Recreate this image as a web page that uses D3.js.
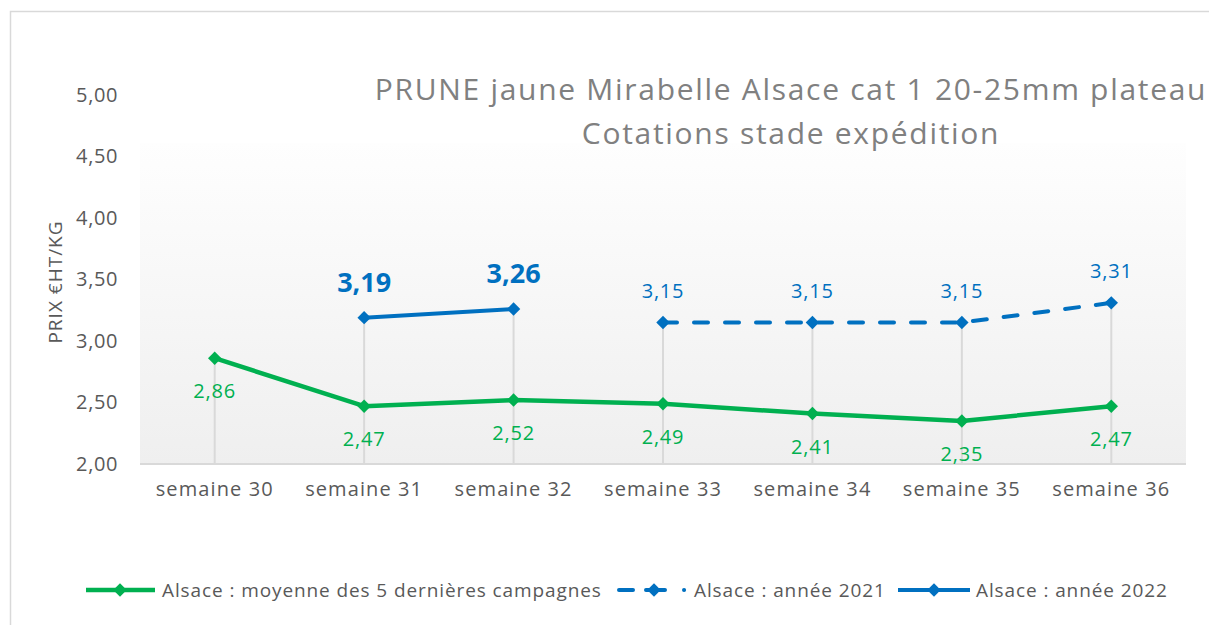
<!DOCTYPE html>
<html>
<head>
<meta charset="utf-8">
<script src="https://cdn.jsdelivr.net/npm/d3@7"></script>
<style>
  html, body { margin: 0; padding: 0; background: #fff; }
  svg { display: block; }
</style>
</head>
<body>
<script>
// --- data ---
const categories = ["semaine 30", "semaine 31", "semaine 32", "semaine 33", "semaine 34", "semaine 35", "semaine 36"];
const moyenne5 = [2.86, 2.47, 2.52, 2.49, 2.41, 2.35, 2.47];
const annee2021 = [null, null, null, 3.15, 3.15, 3.15, 3.31];
const annee2022 = [null, 3.19, 3.26, null, null, null, null];
const yTicks = [2.0, 2.5, 3.0, 3.5, 4.0, 4.5, 5.0];

const titleLines = ["PRUNE jaune Mirabelle Alsace cat 1 20-25mm plateau", "Cotations stade expédition"];
const yTitle = "PRIX €HT/KG";
const legendLabels = ["Alsace : moyenne des 5 dernières campagnes", "Alsace : année 2021", "Alsace : année 2022"];

const GREEN = "#00b050";
const BLUE = "#0070c0";
const FONT = "'Open Sans', 'DejaVu Sans', sans-serif";

const width = 1209;
const height = 625;
const plot = { left: 140, right: 1186, top: 95, bottom: 464 };

const fmt = (v) => v.toFixed(2).replace(".", ",");

const x = d3.scaleBand().domain(categories).range([plot.left, plot.right]);
const cx = (c) => x(c) + x.bandwidth() / 2;
const y = d3.scaleLinear().domain([2, 5]).range([plot.bottom, plot.top]);

const svg = d3.select("body").append("svg")
  .attr("width", width)
  .attr("height", height)
  .style("font-family", FONT);

const defs = svg.append("defs");
const grad = defs.append("linearGradient").attr("id", "plotbg").attr("x1", 0).attr("y1", 0).attr("x2", 0).attr("y2", 1);
grad.append("stop").attr("offset", "0%").attr("stop-color", "#fefefe");
grad.append("stop").attr("offset", "100%").attr("stop-color", "#efefef");
defs.append("clipPath").attr("id", "chartclip")
  .append("rect").attr("x", 0).attr("y", 0).attr("width", 1208).attr("height", height);

// chart border (runs off the right/bottom of the picture)
svg.append("rect")
  .attr("x", 10.5).attr("y", 11.5)
  .attr("width", 1400).attr("height", 800)
  .attr("fill", "#fff").attr("stroke", "#d9d9d9").attr("stroke-width", 1.5);

const g = svg.append("g").attr("clip-path", "url(#chartclip)");

// plot area background (title box covers its upper part)
g.append("rect")
  .attr("x", plot.left).attr("y", 143)
  .attr("width", plot.right - plot.left).attr("height", plot.bottom - 143)
  .attr("fill", "url(#plotbg)");

// drop lines from the highest point of each category to the axis
const dropTop = categories.map((c, i) => d3.max([moyenne5[i], annee2021[i], annee2022[i]].filter((v) => v != null)));
g.append("g").selectAll("line")
  .data(categories)
  .join("line")
  .attr("x1", (c) => cx(c)).attr("x2", (c) => cx(c))
  .attr("y1", (c, i) => y(dropTop[i])).attr("y2", plot.bottom)
  .attr("stroke", "#d9d9d9").attr("stroke-width", 2);

// x axis line
g.append("line")
  .attr("x1", plot.left).attr("x2", plot.right)
  .attr("y1", plot.bottom).attr("y2", plot.bottom)
  .attr("stroke", "#d9d9d9").attr("stroke-width", 2);

// y axis labels
const yAxis = g.append("g")
  .attr("transform", `translate(${plot.left},0)`)
  .call(d3.axisLeft(y).tickValues(yTicks).tickFormat(fmt).tickSize(0).tickPadding(22));
yAxis.select(".domain").remove();
yAxis.selectAll("text").attr("font-size", 20).attr("fill", "#595959").attr("font-family", FONT)
  .attr("letter-spacing", 0.6);

// x axis labels
const xAxis = g.append("g")
  .attr("transform", `translate(0,${plot.bottom})`)
  .call(d3.axisBottom(x).tickSize(0).tickPadding(18));
xAxis.select(".domain").remove();
xAxis.selectAll("text").attr("font-size", 20).attr("fill", "#595959").attr("font-family", FONT)
  .attr("letter-spacing", 1.1);

// y axis title
g.append("text")
  .attr("transform", `translate(62,${282}) rotate(-90)`)
  .attr("text-anchor", "middle")
  .attr("font-size", 19)
  .attr("letter-spacing", 1)
  .attr("fill", "#595959")
  .text(yTitle);

// title
g.append("g").selectAll("text")
  .data(titleLines)
  .join("text")
  .attr("x", 791)
  .attr("y", (d, i) => 100 + i * 44)
  .attr("text-anchor", "middle")
  .attr("font-size", 30)
  .attr("letter-spacing", 1.7)
  .attr("fill", "#808080")
  .text((d) => d);

// series
const series = [
  { name: legendLabels[0], values: moyenne5, color: GREEN, width: 4.5, dash: null },
  { name: legendLabels[1], values: annee2021, color: BLUE, width: 4, dash: "14,17" },
  { name: legendLabels[2], values: annee2022, color: BLUE, width: 4, dash: null },
];

const line = d3.line()
  .defined((d) => d.v != null)
  .x((d) => cx(d.c))
  .y((d) => y(d.v));

const diamond = d3.symbol().type(d3.symbolSquare).size(90);

series.forEach((s) => {
  const pts = categories.map((c, i) => ({ c, v: s.values[i] }));
  g.append("path")
    .datum(pts)
    .attr("d", line)
    .attr("fill", "none")
    .attr("stroke", s.color)
    .attr("stroke-width", s.width)
    .attr("stroke-linecap", s.dash ? "round" : "butt")
    .attr("stroke-linejoin", "round")
    .attr("stroke-dasharray", s.dash);
  g.append("g").selectAll("path")
    .data(pts.filter((d) => d.v != null))
    .join("path")
    .attr("d", diamond)
    .attr("transform", (d) => `translate(${cx(d.c)},${y(d.v)}) rotate(45)`)
    .attr("fill", s.color);
});

// data labels
g.append("g").selectAll("text")
  .data(categories.map((c, i) => ({ c, v: moyenne5[i] })))
  .join("text")
  .attr("x", (d) => cx(d.c))
  .attr("y", (d) => y(d.v) + 40)
  .attr("text-anchor", "middle")
  .attr("font-size", 20)
  .attr("letter-spacing", 0.8)
  .attr("fill", GREEN)
  .text((d) => fmt(d.v));

g.append("g").selectAll("text")
  .data(categories.map((c, i) => ({ c, v: annee2021[i] })).filter((d) => d.v != null))
  .join("text")
  .attr("x", (d) => cx(d.c))
  .attr("y", (d) => y(d.v) - 25)
  .attr("text-anchor", "middle")
  .attr("font-size", 20)
  .attr("letter-spacing", 0.8)
  .attr("fill", BLUE)
  .text((d) => fmt(d.v));

g.append("g").selectAll("text")
  .data(categories.map((c, i) => ({ c, v: annee2022[i] })).filter((d) => d.v != null))
  .join("text")
  .attr("x", (d) => cx(d.c))
  .attr("y", (d) => y(d.v) - 26)
  .attr("text-anchor", "middle")
  .attr("font-size", 27)
  .attr("font-weight", 700)
  .attr("fill", BLUE)
  .text((d) => fmt(d.v));

// legend
const legendItems = [
  { s: series[0], x0: 86, x1: 155, mx: 120, tx: 162, dash: null },
  { s: series[1], x0: 619, x1: 686, mx: 654, tx: 694, dash: "14,13,19,19,0.1" },
  { s: series[2], x0: 898, x1: 970, mx: 934, tx: 976, dash: null },
];
const ly = 590;
const leg = g.append("g");
legendItems.forEach((it) => {
  leg.append("line")
    .attr("x1", it.x0).attr("x2", it.x1)
    .attr("y1", ly).attr("y2", ly)
    .attr("stroke", it.s.color)
    .attr("stroke-width", it.s.width)
    .attr("stroke-linecap", it.dash ? "round" : "butt")
    .attr("stroke-dasharray", it.dash);
  leg.append("path")
    .attr("d", diamond)
    .attr("transform", `translate(${it.mx},${ly}) rotate(45)`)
    .attr("fill", it.s.color);
  leg.append("text")
    .attr("x", it.tx)
    .attr("y", ly + 7)
    .attr("font-size", 19)
    .attr("letter-spacing", 0.9)
    .attr("fill", "#595959")
    .text(it.s.name);
});
</script>
</body>
</html>
